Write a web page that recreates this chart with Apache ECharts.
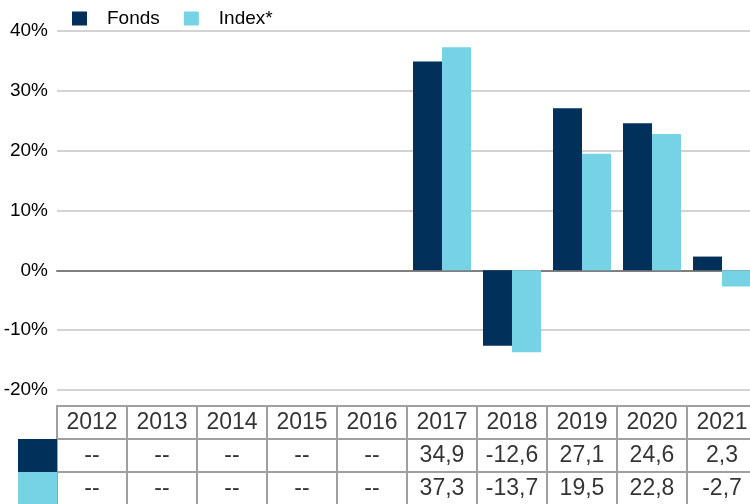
<!DOCTYPE html>
<html>
<head>
<meta charset="utf-8">
<script src="https://cdn.jsdelivr.net/npm/echarts@6/dist/echarts.min.js"></script>
<style>
  html, body { margin: 0; padding: 0; background: #fff; }
  #chart { width: 750px; height: 504px; }
</style>
</head>
<body>
<div id="chart"></div>
<script>
const years = ["2012", "2013", "2014", "2015", "2016", "2017", "2018", "2019", "2020", "2021"];
const fonds = [null, null, null, null, null, 34.9, -12.6, 27.1, 24.6, 2.3];
const index = [null, null, null, null, null, 37.3, -13.7, 19.5, 22.8, -2.7];
const seriesNames = ["Fonds", "Index*"];
const colors = ["#01305a", "#75d3e5"];

const font = "Liberation Sans, Arial, sans-serif";
const rows = ["head", "fonds", "index"];

// Tabelle unter dem Diagramm
const fmt = (v) => (v === null ? "--" : v.toFixed(1).replace(".", ","));
const cells = [];
years.forEach((y, i) => {
  cells.push([y, "head", y]);
  cells.push([y, "fonds", fmt(fonds[i])]);
  cells.push([y, "index", fmt(index[i])]);
});

const chart = echarts.init(document.getElementById("chart"));
const option = {
  animation: false,
  textStyle: { fontFamily: font },
  legend: {
    top: 4,
    left: 67,
    icon: "rect",
    itemWidth: 15,
    itemHeight: 14,
    itemGap: 24,
    textStyle: { fontSize: 19, color: "#000", padding: [0, 0, 0, 15] },
    data: seriesNames,
  },
  grid: [
    { left: 57, width: 700, top: 31, bottom: 114, outerBoundsMode: "none" },
    {
      left: 57,
      width: 700,
      top: 406,
      height: 99,
      outerBoundsMode: "none",
      show: true,
      borderColor: "#a0a0a0",
      borderWidth: 2,
    },
  ],
  xAxis: [
    {
      type: "category",
      gridIndex: 0,
      data: years,
      axisTick: { show: false },
      axisLabel: { show: false },
      axisLine: { onZero: true, lineStyle: { color: "#7f7f7f", width: 2 } },
    },
    {
      type: "category",
      gridIndex: 1,
      data: years,
      axisTick: { show: false },
      axisLabel: { show: false },
      axisLine: { show: false },
      splitLine: { show: true, interval: 0, lineStyle: { color: "#a0a0a0", width: 2 } },
    },
  ],
  yAxis: [
    {
      type: "value",
      gridIndex: 0,
      min: -20,
      max: 40,
      interval: 10,
      axisLabel: {
        formatter: "{value}%",
        fontSize: 19,
        color: "#000",
        margin: 9,
      },
      axisLine: { show: false },
      axisTick: { show: false },
      splitLine: { lineStyle: { color: "#d3d3d3", width: 2 } },
    },
    {
      type: "category",
      gridIndex: 1,
      inverse: true,
      data: rows,
      axisTick: { show: false },
      axisLine: { show: false },
      splitLine: { show: true, interval: 0, lineStyle: { color: "#a0a0a0", width: 2 } },
      axisLabel: {
        interval: 0,
        margin: 0,
        formatter: (v) => (v === "fonds" ? "{a|}" : v === "index" ? "{b|}" : ""),
        rich: {
          a: { width: 39, height: 33, backgroundColor: colors[0] },
          b: { width: 39, height: 33, backgroundColor: colors[1] },
        },
      },
    },
  ],
  series: [
    {
      name: seriesNames[0],
      type: "bar",
      data: fonds,
      barWidth: 29,
      barGap: "0%",
      itemStyle: { color: colors[0] },
    },
    {
      name: seriesNames[1],
      type: "bar",
      data: index,
      barWidth: 29,
      barGap: "0%",
      itemStyle: { color: colors[1] },
    },
    {
      type: "scatter",
      xAxisIndex: 1,
      yAxisIndex: 1,
      data: cells,
      symbolSize: 1,
      itemStyle: { color: "rgba(0,0,0,0)" },
      label: {
        show: true,
        position: "inside",
        color: "#000",
        fontSize: 23,
        formatter: (p) => p.value[2],
      },
      silent: true,
    },
  ],
};
chart.setOption(option);
</script>
</body>
</html>
